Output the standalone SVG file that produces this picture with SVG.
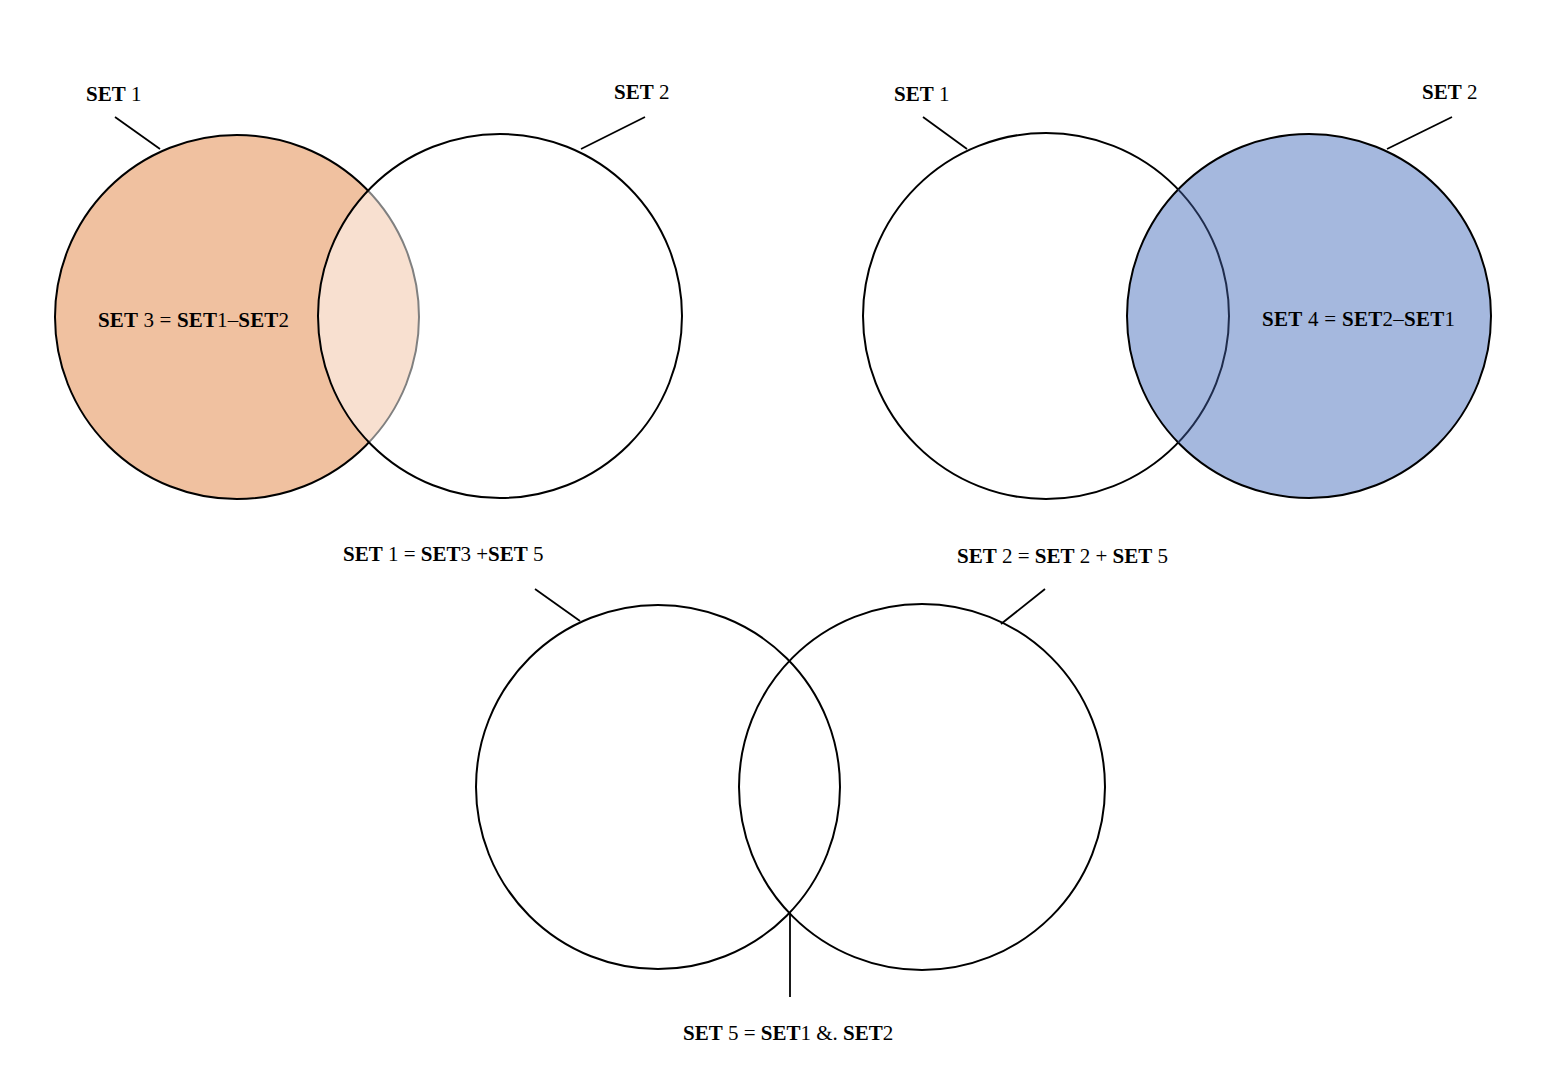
<svg xmlns="http://www.w3.org/2000/svg" width="1560" height="1074" viewBox="0 0 1560 1074">
<style>
.c{fill:none;stroke:#000;stroke-width:2}
.l{stroke:#000;stroke-width:1.8;fill:none}
text{font-family:"Liberation Serif","DejaVu Serif",serif;font-size:21px;fill:#000}
.b{font-weight:bold}
.s{font-size:21px}
</style>
<defs>
<clipPath id="clipBlue"><circle cx="1309" cy="316" r="182"/></clipPath>
</defs>
<rect width="1560" height="1074" fill="#fff"/>
<g id="panel1">
<g id="p1-set1">
<circle cx="237" cy="317" r="182" fill="#F0C1A0" stroke="#000" stroke-width="2"/>
</g>
<g id="p1-set2">
<circle cx="500" cy="316" r="182" fill="#fff" fill-opacity="0.5" stroke="#000" stroke-width="2"/>
</g>
<g id="p1-set3-label"><text x="98" y="327" class="s" textLength="191" lengthAdjust="spacing"><tspan class="b">SET</tspan> 3 = <tspan class="b">SET</tspan>1–<tspan class="b">SET</tspan>2</text></g>
<g id="p1-label1"><text x="86" y="101"><tspan class="b">SET</tspan> 1</text></g>
<g id="p1-label2"><text x="614" y="99"><tspan class="b">SET</tspan> 2</text></g>
</g>
<g id="panel2">
<g id="p2-set1">
<circle cx="1046" cy="316" r="183" fill="#fff" stroke="#000" stroke-width="2"/>
</g>
<g id="p2-set2">
<circle cx="1309" cy="316" r="182" fill="#A5B8DE" stroke="#000" stroke-width="2"/>
<circle cx="1046" cy="316" r="183" fill="none" stroke="#1F2C4C" stroke-width="2" clip-path="url(#clipBlue)"/>
</g>
<g id="p2-set4-label"><text x="1262" y="326" class="s" textLength="193" lengthAdjust="spacing"><tspan class="b">SET</tspan> 4 = <tspan class="b">SET</tspan>2–<tspan class="b">SET</tspan>1</text></g>
<g id="p2-label1"><text x="894" y="101"><tspan class="b">SET</tspan> 1</text></g>
<g id="p2-label2"><text x="1422" y="99"><tspan class="b">SET</tspan> 2</text></g>
</g>
<g id="panel3">
<g id="p3-set1"><circle class="c" cx="658" cy="787" r="182"/></g>
<g id="p3-set2"><circle class="c" cx="922" cy="787" r="183"/></g>
<g id="p3-label1"><text x="343" y="561"><tspan class="b">SET</tspan> 1 = <tspan class="b">SET</tspan>3 +<tspan class="b">SET</tspan> 5</text></g>
<g id="p3-label2"><text x="957" y="563"><tspan class="b">SET</tspan> 2 = <tspan class="b">SET</tspan> 2 + <tspan class="b">SET</tspan> 5</text></g>
<g id="p3-label5"><text x="683" y="1040"><tspan class="b">SET</tspan> 5 = <tspan class="b">SET</tspan>1 &amp;. <tspan class="b">SET</tspan>2</text></g>
</g>
<g id="connectors">
<line class="l" x1="115" y1="117" x2="160" y2="149"/>
<line class="l" x1="645" y1="117" x2="581" y2="149"/>
<line class="l" x1="923" y1="117" x2="967" y2="149"/>
<line class="l" x1="1452" y1="117" x2="1387" y2="149"/>
<line class="l" x1="535" y1="589" x2="580" y2="621"/>
<line class="l" x1="1045" y1="589" x2="1001" y2="624"/>
<line class="l" x1="790" y1="913" x2="790" y2="997"/>
</g>
</svg>
